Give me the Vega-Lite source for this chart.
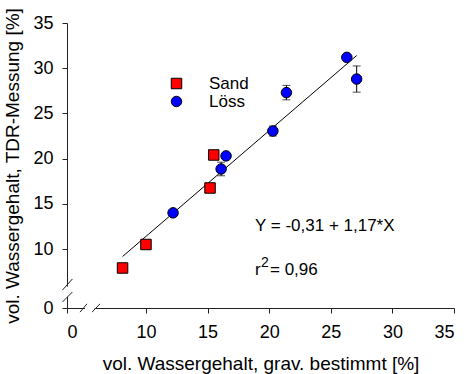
{
  "$schema": "https://vega.github.io/schema/vega-lite/v6.json",
  "width": 387,
  "height": 285,
  "autosize": {"type": "none"},
  "padding": {"left": 67, "top": 23, "right": 10, "bottom": 66},
  "background": "white",
  "config": {
    "font": "Liberation Sans",
    "view": {"stroke": null},
    "axis": {
      "grid": false,
      "domainColor": "#222222",
      "tickColor": "#222222",
      "tickSize": 5,
      "labelFontSize": 18,
      "titleFontSize": 19,
      "titleFontWeight": "normal",
      "labelColor": "black",
      "titleColor": "black",
      "labelFont": "Liberation Sans",
      "titleFont": "Liberation Sans"
    }
  },
  "datasets": {
    "points": [
      {"x": 8.1, "y": 7.9, "Serie": "Sand"},
      {"x": 10.0, "y": 10.5, "Serie": "Sand"},
      {"x": 15.2, "y": 16.75, "Serie": "Sand"},
      {"x": 15.5, "y": 20.4, "Serie": "Sand"},
      {"x": 12.2, "y": 14.0, "Serie": "Löss"},
      {"x": 16.1, "y": 18.85, "Serie": "Löss"},
      {"x": 16.5, "y": 20.3, "Serie": "Löss"},
      {"x": 20.3, "y": 23.05, "Serie": "Löss"},
      {"x": 21.4, "y": 27.3, "Serie": "Löss"},
      {"x": 26.3, "y": 31.2, "Serie": "Löss"},
      {"x": 27.1, "y": 28.8, "Serie": "Löss"}
    ],
    "errors": [
      {"x": 27.1, "lo": 27.35, "hi": 30.25},
      {"x": 21.4, "lo": 26.5, "hi": 28.1},
      {"x": 20.3, "lo": 22.5, "hi": 23.6},
      {"x": 16.1, "lo": 18.1, "hi": 19.6}
    ],
    "fit": [
      {"x": 8.1, "y": 9.17},
      {"x": 27.1, "y": 31.40}
    ],
    "gaps": [
      {"x": 0, "y": 2.3, "x2": 0, "y2": 4.4},
      {"x": 3.0, "y": 0, "x2": 4.6, "y2": 0}
    ],
    "breaks": [
      {"x": -0.75, "y": 1.24, "x2": 0.9, "y2": 3.3},
      {"x": -0.75, "y": 3.71, "x2": 0.9, "y2": 5.98},
      {"x": 2.17, "y": -0.85, "x2": 3.33, "y2": 0.85},
      {"x": 4.17, "y": -0.85, "x2": 5.5, "y2": 0.85}
    ],
    "equation": [{"x": 18.85, "y": 12.5, "label": "Y = -0,31 + 1,17*X"}],
    "r2": [{"x": 18.85, "y": 7.68, "label": "r", "sup": "2", "rest": "= 0,96"}]
  },
  "encoding": {
    "x": {
      "field": "x",
      "type": "quantitative",
      "scale": {"domain": [0, 7, 35], "range": [0, 42, 387], "nice": false, "zero": false},
      "axis": {
        "values": [0, 10, 15, 20, 25, 30, 35],
        "title": "vol. Wassergehalt, grav. bestimmt [%]",
        "labelPadding": 10,
        "titlePadding": 13
      }
    },
    "y": {
      "field": "y",
      "type": "quantitative",
      "scale": {"domain": [0, 7.5, 35], "range": [285, 248.6, 0], "nice": false, "zero": false},
      "axis": {
        "values": [0, 10, 15, 20, 25, 30, 35],
        "title": "vol. Wassergehalt, TDR-Messung [%]",
        "labelPadding": 9,
        "titlePadding": 10
      }
    }
  },
  "layer": [
    {
      "data": {"name": "gaps"},
      "mark": {"type": "rule", "color": "white", "strokeWidth": 3},
      "encoding": {"x2": {"field": "x2"}, "y2": {"field": "y2"}}
    },
    {
      "data": {"name": "breaks"},
      "mark": {"type": "rule", "color": "#222222", "strokeWidth": 1},
      "encoding": {"x2": {"field": "x2"}, "y2": {"field": "y2"}}
    },
    {
      "data": {"name": "fit"},
      "mark": {"type": "line", "color": "black", "strokeWidth": 1},
      "encoding": {}
    },
    {
      "data": {"name": "errors"},
      "mark": {"type": "rule", "color": "black", "strokeWidth": 1},
      "encoding": {"y": {"field": "lo", "type": "quantitative"}, "y2": {"field": "hi"}}
    },
    {
      "data": {"name": "errors"},
      "mark": {"type": "tick", "orient": "horizontal", "color": "black", "size": 8, "thickness": 1},
      "encoding": {"y": {"field": "lo", "type": "quantitative"}}
    },
    {
      "data": {"name": "errors"},
      "mark": {"type": "tick", "orient": "horizontal", "color": "black", "size": 8, "thickness": 1},
      "encoding": {"y": {"field": "hi", "type": "quantitative"}}
    },
    {
      "data": {"name": "points"},
      "mark": {"type": "point", "filled": true, "stroke": "black", "strokeWidth": 1, "opacity": 1, "size": 110},
      "encoding": {
        "color": {
          "field": "Serie",
          "type": "nominal",
          "scale": {"domain": ["Sand", "Löss"], "range": ["#ff0000", "#0000ff"]},
          "legend": {
            "orient": "none",
            "legendX": 101,
            "legendY": 52,
            "title": null,
            "labelFontSize": 17,
            "labelOffset": 24,
            "symbolStrokeColor": "black",
            "symbolStrokeWidth": 1,
            "symbolSize": 110,
            "rowPadding": 0,
            "padding": 0,
            "labelColor": "black"
          }
        },
        "shape": {
          "field": "Serie",
          "type": "nominal",
          "scale": {"domain": ["Sand", "Löss"], "range": ["square", "circle"]}
        }
      }
    },
    {
      "data": {"name": "equation"},
      "mark": {"type": "text", "fontSize": 17, "align": "left", "baseline": "middle", "color": "black"},
      "encoding": {"text": {"field": "label"}}
    },
    {
      "data": {"name": "r2"},
      "mark": {"type": "text", "fontSize": 17, "align": "left", "baseline": "middle", "color": "black"},
      "encoding": {"text": {"field": "label"}}
    },
    {
      "data": {"name": "r2"},
      "mark": {"type": "text", "fontSize": 14, "align": "left", "baseline": "middle", "dx": 6, "dy": -7, "color": "black"},
      "encoding": {"text": {"field": "sup"}}
    },
    {
      "data": {"name": "r2"},
      "mark": {"type": "text", "fontSize": 17, "align": "left", "baseline": "middle", "dx": 15, "color": "black"},
      "encoding": {"text": {"field": "rest"}}
    }
  ]
}
